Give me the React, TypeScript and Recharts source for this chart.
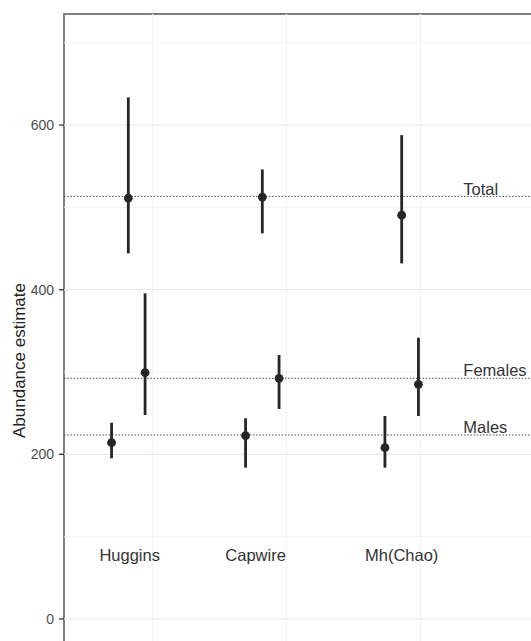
import React from 'react';
import {
  ScatterChart,
  Scatter,
  XAxis,
  YAxis,
  ErrorBar,
  ReferenceLine,
  ReferenceArea,
} from 'recharts';

// ---- data ----
const categories = ['Huggins', 'Capwire', 'Mh(Chao)'];
const categoryX = [0.82, 1.82, 2.86];
const categoryLabelX = [0.83, 1.77, 2.86];
const categoryLabelY = 77;

const groups = ['Males', 'Total', 'Females'];
const groupOffset = [-0.125, 0, 0.125];

const malesEst = [214.2, 222.6, 208.1];
const malesLow = [195.2, 183.8, 183.8];
const malesHigh = [238.4, 243.8, 246.6];

const femalesEst = [299.2, 292.4, 285.0];
const femalesLow = [247.8, 255.1, 246.6];
const femalesHigh = [395.6, 320.7, 341.7];

const totalEst = [511.3, 512.6, 490.6];
const totalLow = [444.2, 468.5, 432.0];
const totalHigh = [633.7, 546.2, 587.9];

const refNames = ['Total', 'Females', 'Males'];
const refValues = [513.4, 292.4, 223.5];
const refLabelX = 3.32;

const yTicks = [0, 200, 400, 600];
const yMinor = [100, 300, 500, 700];
const xGrid = [1, 2, 3, 4];

const xDomain: [number, number] = [0.34, 4.34];
const yDomain: [number, number] = [-107, 735];

// ---- build tables ----
const seriesEst = [malesEst, totalEst, femalesEst];
const seriesLow = [malesLow, totalLow, femalesLow];
const seriesHigh = [malesHigh, totalHigh, femalesHigh];

const seriesData = groups.map((g, gi) =>
  categories.map((c, ci) => ({
    name: c,
    group: g,
    x: categoryX[ci] + groupOffset[gi],
    y: seriesEst[gi][ci],
    err: [seriesEst[gi][ci] - seriesLow[gi][ci], seriesHigh[gi][ci] - seriesEst[gi][ci]],
  }))
);

const catLabelData = categories.map((c, i) => ({ x: categoryLabelX[i], y: categoryLabelY, text: c }));
const refLabelData = refNames.map((n, i) => ({ x: refLabelX, y: refValues[i], text: n }));

const FONT = '"Liberation Sans", Arial, Helvetica, sans-serif';
const INK = '#262626';

const Dot = (p: any) => <circle cx={p.cx} cy={p.cy} r={4.4} fill={INK} />;

const CatLabel = (p: any) => (
  <text
    x={p.cx}
    y={p.cy}
    dy="0.35em"
    textAnchor="middle"
    fontFamily={FONT}
    fontSize={16.5}
    fill="#333333"
  >
    {p.payload.text}
  </text>
);

const RefLabel = (p: any) => (
  <text
    x={p.cx}
    y={p.cy}
    dy={-1.8}
    textAnchor="start"
    fontFamily={FONT}
    fontSize={16.5}
    fill="#333333"
  >
    {p.payload.text}
  </text>
);

const YTitle = (props: any) => {
  const vb = props.viewBox || { x: 0, y: 0, width: 64, height: 600 };
  const cx = vb.x + 19;
  const cy = vb.y + vb.height / 2;
  return (
    <text
      x={cx}
      y={cy}
      transform={`rotate(-90 ${cx} ${cy})`}
      textAnchor="middle"
      dominantBaseline="central"
      fontFamily={FONT}
      fontSize={17}
      fill="#222222"
    >
      Abundance estimate
    </text>
  );
};

export default function App() {
  return (
    <div
      style={{
        position: 'absolute',
        left: 0,
        top: 0,
        width: 531,
        height: 641,
        overflow: 'hidden',
        background: '#ffffff',
      }}
    >
      <ScatterChart
        width={600}
        height={707}
        margin={{ top: 14, right: 0, bottom: 0, left: 0 }}
        style={{ fontFamily: FONT }}
      >
        <XAxis
          type="number"
          dataKey="x"
          domain={xDomain}
          allowDataOverflow
          hide
        />
        <YAxis
          type="number"
          dataKey="y"
          domain={yDomain}
          allowDataOverflow
          ticks={yTicks}
          width={64}
          axisLine={false}
          tickSize={5}
          tickMargin={5}
          tickLine={{ stroke: '#333333', strokeWidth: 1.3 }}
          tick={{ fill: '#4d4d4d', fontSize: 14, fontFamily: FONT }}
          label={<YTitle />}
        />

        {yMinor.map((v) => (
          <ReferenceLine key={'mi' + v} y={v} stroke="#f4f4f4" strokeWidth={1} />
        ))}
        {xGrid.map((v) => (
          <ReferenceLine key={'xg' + v} x={v} stroke="#f2f4f4" strokeWidth={1.3} />
        ))}
        {yTicks.map((v) => (
          <ReferenceLine key={'ma' + v} y={v} stroke="#e8e8e8" strokeWidth={1.3} />
        ))}
        {refValues.map((v, i) => (
          <ReferenceLine
            key={'ref' + i}
            y={v}
            stroke="#555555"
            strokeWidth={1}
            strokeDasharray="1.6 1.6"
          />
        ))}

        {seriesData.map((d, i) => (
          <Scatter
            key={groups[i]}
            name={groups[i]}
            data={d}
            shape={Dot}
            isAnimationActive={false}
          >
            <ErrorBar
              dataKey="err"
              direction="y"
              width={0}
              stroke={INK}
              strokeWidth={2.8}
              isAnimationActive={false}
            />
          </Scatter>
        ))}

        <Scatter data={catLabelData} shape={CatLabel} isAnimationActive={false} />
        <Scatter data={refLabelData} shape={RefLabel} isAnimationActive={false} />

        <ReferenceArea
          x1={xDomain[0]}
          x2={xDomain[1]}
          y1={yDomain[0]}
          y2={yDomain[1]}
          fill="none"
          fillOpacity={0}
          stroke="#7f7f7f"
          strokeWidth={2}
        />
      </ScatterChart>
    </div>
  );
}
